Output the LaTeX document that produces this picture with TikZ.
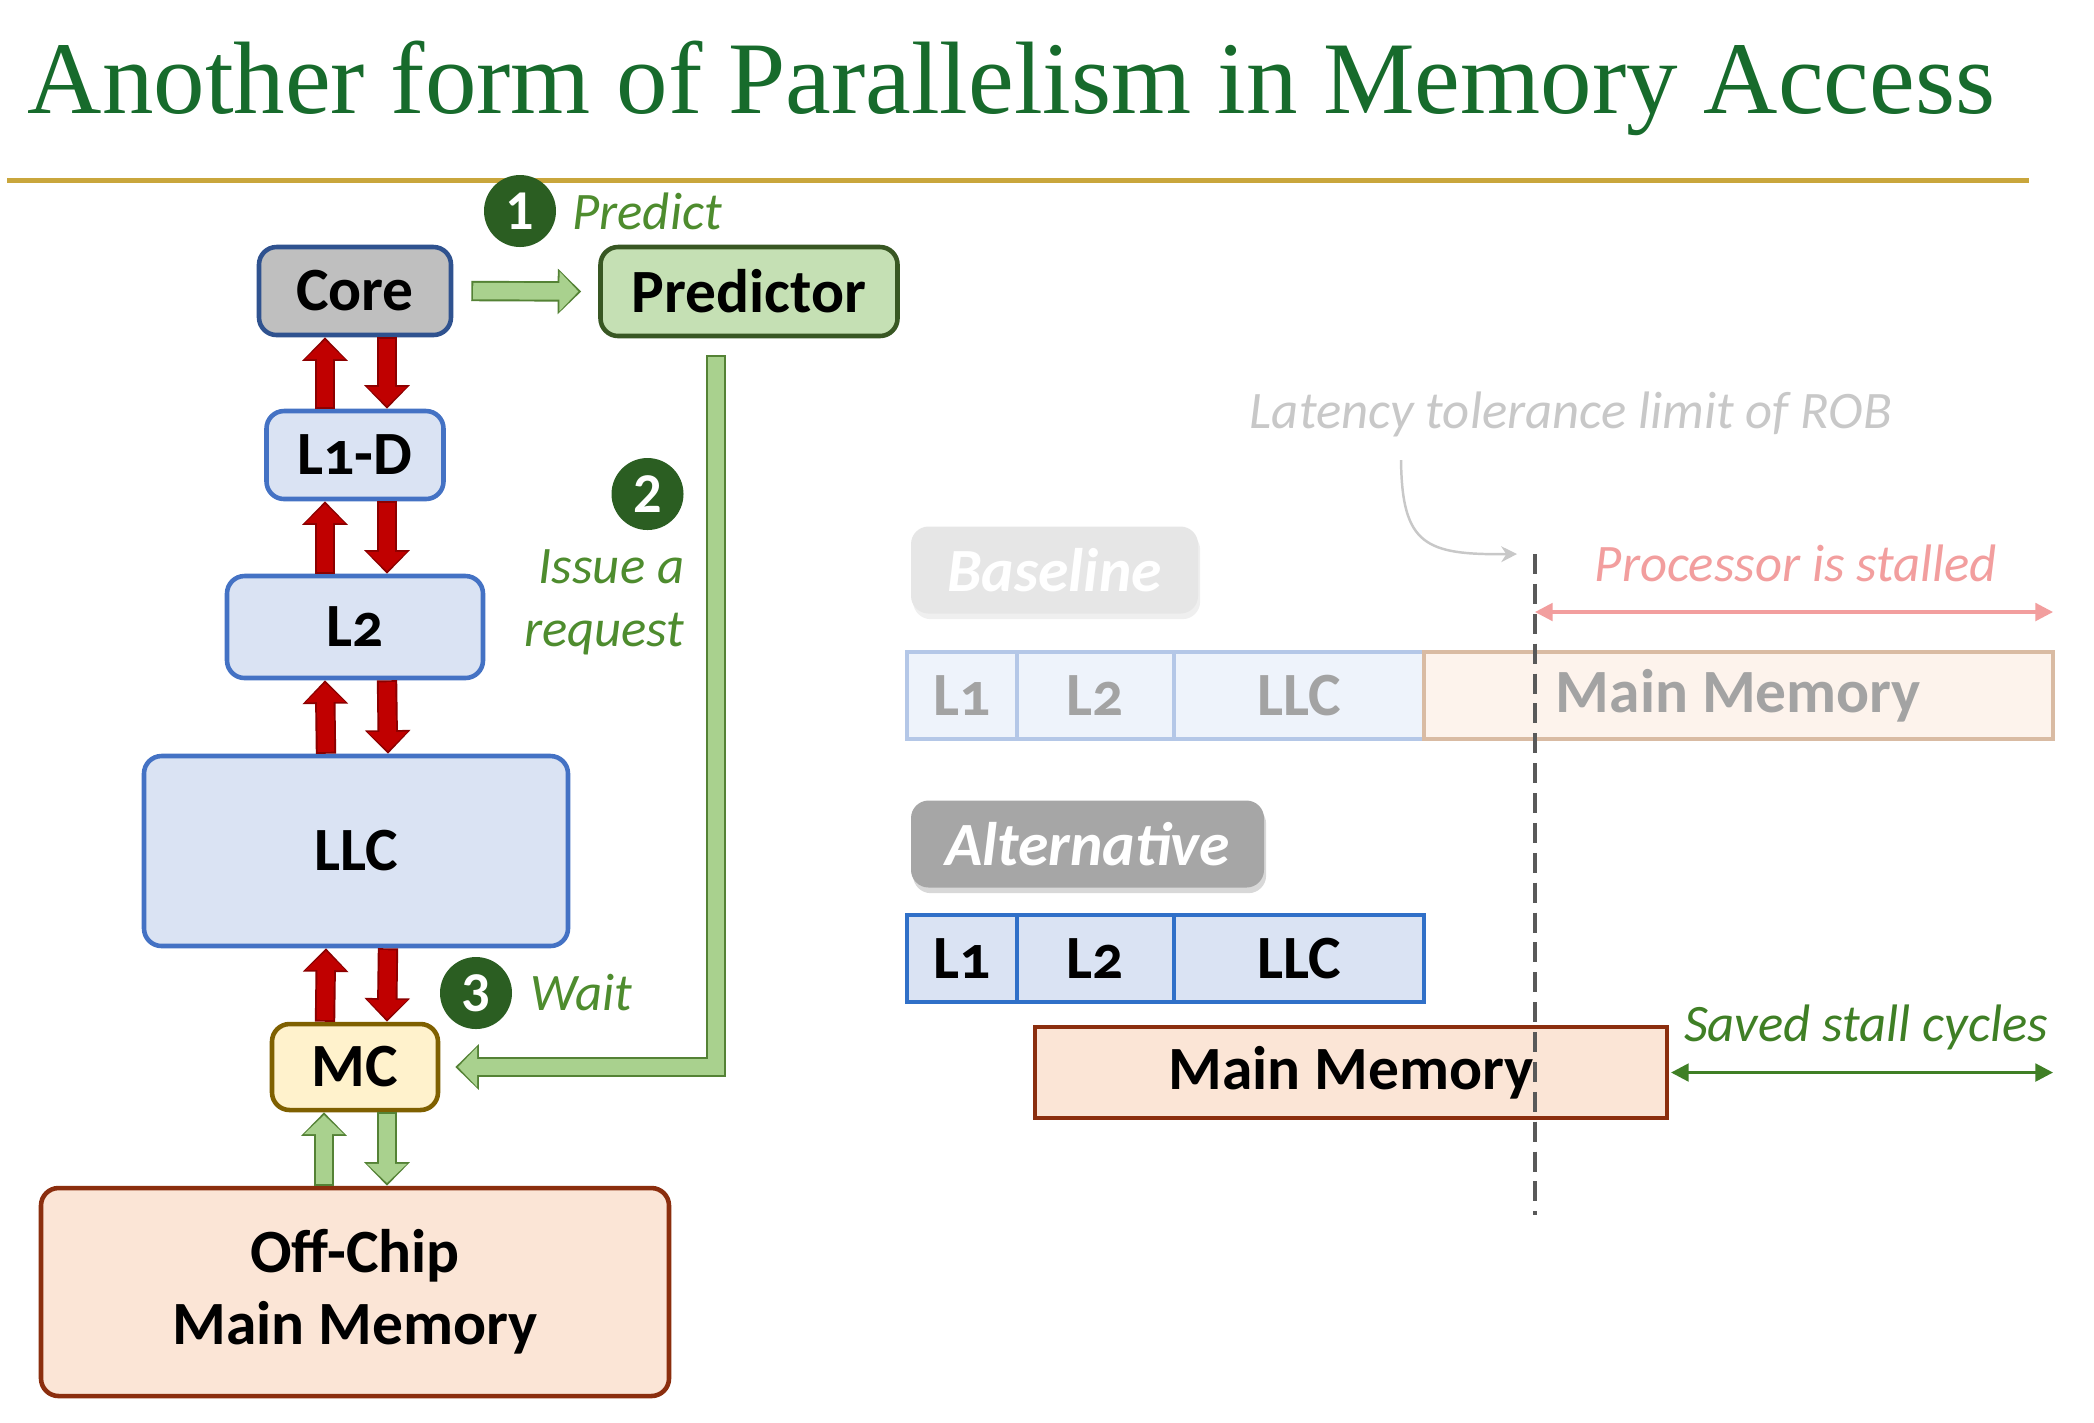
\documentclass[tikz,border=0pt]{standalone}
\usepackage{fontspec}
\setmainfont{Carlito}[Numbers=OldStyle]
\newfontfamily\titlefont{Liberation Serif}
\usetikzlibrary{positioning,arrows.meta,shadows}

\definecolor{titlegreen}{HTML}{176B2C}
\definecolor{rulegold}{HTML}{C9A63C}
\definecolor{corefill}{HTML}{BFBFBF}
\definecolor{coreline}{HTML}{2F528F}
\definecolor{predfill}{HTML}{C5E0B4}
\definecolor{predline}{HTML}{385723}
\definecolor{cachefill}{HTML}{DAE3F3}
\definecolor{cacheline}{HTML}{4472C4}
\definecolor{mcfill}{HTML}{FFF2CC}
\definecolor{mcline}{HTML}{7F6000}
\definecolor{memfill}{HTML}{FBE5D6}
\definecolor{memline}{HTML}{8B2E0E}
\definecolor{busred}{HTML}{C00000}
\definecolor{busredline}{HTML}{8B0000}
\definecolor{busgreen}{HTML}{A9D18E}
\definecolor{busgreenline}{HTML}{548235}
\definecolor{stepgreen}{HTML}{2B5E22}
\definecolor{notegreen}{HTML}{4E8C2E}
\definecolor{robgray}{HTML}{C8C8C8}
\definecolor{stallpink}{HTML}{F29E9E}
\definecolor{savedgreen}{HTML}{3F7F25}
\definecolor{limitgray}{HTML}{595959}
\definecolor{fadefill}{HTML}{EEF3FB}
\definecolor{fadeline}{HTML}{B4C7E7}
\definecolor{fadememfill}{HTML}{FDF3EC}
\definecolor{fadememline}{HTML}{D9BBA3}
\definecolor{fadetext}{HTML}{A3A3A3}
\definecolor{altline}{HTML}{3070C8}
\definecolor{basefill}{HTML}{E6E6E6}
\definecolor{altfill}{HTML}{A6A6A6}

\begin{document}
\begin{tikzpicture}[
  box/.style={draw, rounded corners=5pt, line width=1.3pt, align=center, inner sep=2pt, font=\bfseries\fontsize{17.5}{20.5}\selectfont},
  cache/.style={box, fill=cachefill, draw=cacheline},
  numdot/.style={circle, fill=stepgreen, text=white, minimum size=0.72cm, inner sep=0pt, font=\bfseries\fontsize{16}{16}\selectfont\addfontfeatures{Numbers=Lining}},
  note/.style={inner sep=0pt, font=\itshape\fontsize{15}{18}\selectfont},
  tag/.style={rounded corners=5pt, minimum height=0.87cm, text=white, font=\bfseries\itshape\fontsize{17.5}{20}\selectfont},
  cell/.style={draw, line width=1.1pt, outer sep=0pt, minimum height=0.87cm, inner sep=0pt, font=\bfseries\fontsize{17.5}{20}\selectfont},
  fatarrow/.style 2 args={draw=#1, line width=4.7pt, line join=miter, shorten >=0.8pt, shorten <=0.55pt, -{Triangle[length=5.4pt,width=11pt]}, preaction={draw=#2, line width=5.8pt, shorten >=0pt, shorten <=0pt, -{Triangle[length=6.7pt,width=12.6pt]}}},
  redbus/.style={fatarrow={busred}{busredline}},
  greenbus/.style={fatarrow={busgreen}{busgreenline}},
  limitline/.style={draw=limitgray, line width=0.9pt, dash pattern=on 5.7pt off 2.8pt},
  pointer/.style={draw=robgray, line width=0.7pt, -{Stealth[length=4.5pt,width=4.5pt]}},
  span/.style={line width=0.9pt, {Triangle[length=5pt,width=5pt]}-{Triangle[length=5pt,width=5pt]}}
]
\fill[white] (0,0) rectangle (20.94,-14.22);
\useasboundingbox (0,0) rectangle (20.94,-14.22);

\node[anchor=base west, inner sep=0pt, text=titlegreen, font=\titlefont\fontsize{29.3}{32}\selectfont] (title) at (0.27,-1.13) {Another form of Parallelism in Memory Access};
\coordinate (ruleleft) at (0.07,-1.805);
\coordinate (ruleright) at (20.29,-1.805);
\draw[rulegold, line width=1.2pt] (ruleleft) -- (ruleright);

\node[box, fill=corefill, draw=coreline, minimum width=1.92cm, minimum height=0.88cm] (core) at (3.55,-2.91) {Core};
\node[box, fill=predfill, draw=predline, minimum width=2.97cm, minimum height=0.89cm] (pred) at (7.49,-2.915) {Predictor};
\node[cache, minimum width=1.77cm, minimum height=0.88cm] (l1d) at (3.55,-4.55) {L1-D};
\node[cache, minimum width=2.56cm, minimum height=1.02cm] (l2) at (3.55,-6.27) {L2};
\node[cache, minimum width=4.24cm, minimum height=1.90cm] (llc) at (3.56,-8.51) {LLC};
\node[box, fill=mcfill, draw=mcline, minimum width=1.66cm, minimum height=0.86cm] (mc) at (3.55,-10.67) {MC};
\node[box, fill=memfill, draw=memline, minimum width=6.28cm, minimum height=2.08cm] (offchip) at (3.55,-12.92) {Off-Chip\\Main Memory};

\foreach \lo/\hi in {l1d/core, l2/l1d, llc/l2, mc/llc} {
  \draw[redbus] ([xshift=-3mm]\lo.north) -- ([xshift=-3mm]\hi.south);
  \draw[redbus] ([xshift=3.2mm]\hi.south) -- ([xshift=3.2mm]\lo.north);
}
\draw[greenbus] ([xshift=-3.1mm]offchip.north) -- ([xshift=-3.1mm]mc.south);
\draw[greenbus] ([xshift=3.2mm]mc.south) -- ([xshift=3.2mm]offchip.north);
\draw[greenbus] ([xshift=0.18cm]core.east) -- ([xshift=-0.17cm]pred.west);
\draw[greenbus] ([xshift=-0.33cm,yshift=-0.17cm]pred.south) |- ([xshift=0.15cm]mc.east);

\node[numdot] (c1) at (5.20,-2.11) {1};
\node[note, text=notegreen, right=0.15cm of c1] (predict) {Predict};
\node[numdot] (c2) at (6.475,-4.94) {2};
\node[note, text=notegreen, align=right, anchor=east] (issue) at (6.85,-6.02) {Issue a\\request};
\node[numdot] (c3) at (4.76,-9.93) {3};
\node[note, text=notegreen, right=0.17cm of c3] (wait) {Wait};

\node[tag, fill=basefill, minimum width=2.87cm, drop shadow={opacity=0.12, shadow xshift=0.6pt, shadow yshift=-1.6pt}] (baseline) at (10.545,-5.70) {Baseline};
\node[cell, fill=fadefill, draw=fadeline, text=fadetext, minimum width=1.10cm, anchor=west] (b1) at (9.07,-6.955) {L1};
\node[cell, fill=fadefill, draw=fadeline, text=fadetext, minimum width=1.57cm, right=0pt of b1] (b2) {L2};
\node[cell, fill=fadefill, draw=fadeline, text=fadetext, minimum width=2.50cm, right=0pt of b2] (b3) {LLC};
\node[cell, fill=fadememfill, draw=fadememline, text=fadetext, minimum width=6.29cm, right=0pt of b3] (bmm) {Main Memory};

\node[tag, fill=altfill, minimum width=3.53cm, drop shadow={opacity=0.3, shadow xshift=0.6pt, shadow yshift=-1.6pt}] (alternative) at (10.875,-8.44) {Alternative};
\node[cell, fill=cachefill, draw=altline, minimum width=1.10cm, anchor=west] (a1) at (9.07,-9.585) {L1};
\node[cell, fill=cachefill, draw=altline, minimum width=1.57cm, right=0pt of a1] (a2) {L2};
\node[cell, fill=cachefill, draw=altline, minimum width=2.50cm, right=0pt of a2] (a3) {LLC};
\node[cell, fill=memfill, draw=memline, minimum width=6.32cm, minimum height=0.91cm] (amm) at (13.51,-10.725) {Main Memory};

\node[note, text=robgray] (robnote) at (15.71,-4.14) {Latency tolerance limit of ROB};
\coordinate (robfoot) at (14.01,-4.60);
\coordinate (robtop) at (15.35,-5.54);
\coordinate (robbot) at (15.35,-12.15);
\draw[limitline] (robtop) -- (robbot);
\draw[pointer] (robfoot) .. controls (14.02,-5.45) and (14.25,-5.55) .. ([xshift=-0.18cm]robtop);

\node[note, text=stallpink] (stalled) at (17.96,-5.63) {Processor is stalled};
\draw[span, stallpink] ([yshift=0.4cm]bmm.north -| robtop) -- ([yshift=0.4cm]bmm.north east);
\node[note, text=savedgreen] (saved) at (18.66,-10.27) {Saved stall cycles};
\draw[span, savedgreen] ([xshift=0.04cm]amm.east) -- (amm.east -| bmm.east);
\end{tikzpicture}
\end{document}
